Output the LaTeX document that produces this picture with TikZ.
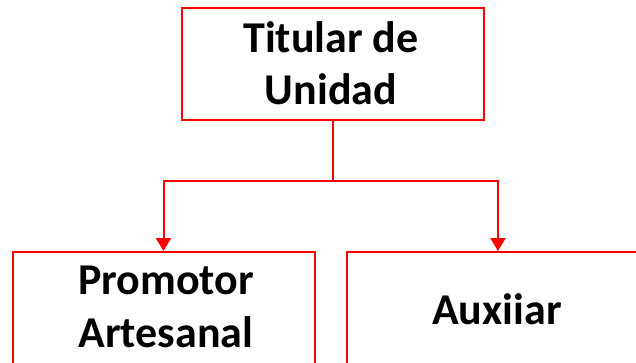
\documentclass[tikz,border=0pt]{standalone}
\usepackage{fontspec}
\setmainfont{Carlito}
\usetikzlibrary{arrows.meta}
\tikzset{
  box/.style={draw=red, line width=2pt, minimum width=302pt, minimum height=112pt, inner sep=0pt},
  lbl/.style={font=\bfseries\fontsize{44}{52.5}\selectfont, align=center, inner sep=0pt, anchor=base},
  conn/.style={draw=red, line width=2pt},
  arr/.style={conn, -{Triangle[width=15pt,length=13pt]}}
}
\begin{document}
\begin{tikzpicture}[x=1pt,y=-1pt]
\useasboundingbox (0,0) rectangle (636,363);
\node[box] (top) at (333,64) {};
\node[box] (left) at (163.5,308) {};
\node[box] (right) at (498,308) {};
\node[lbl] (ttop) at (331,105) {Titular de\\Unidad};
\node[lbl] (tleft) at (166,347) {Promotor\\Artesanal};
\node[lbl] (tright) at (497,324) {Auxiiar};
\coordinate (j) at (333,181);
\draw[conn] (top.south) -- (j);
\draw[arr] (j) -| (left.north);
\draw[arr] (j) -| (right.north);
\end{tikzpicture}
\end{document}
